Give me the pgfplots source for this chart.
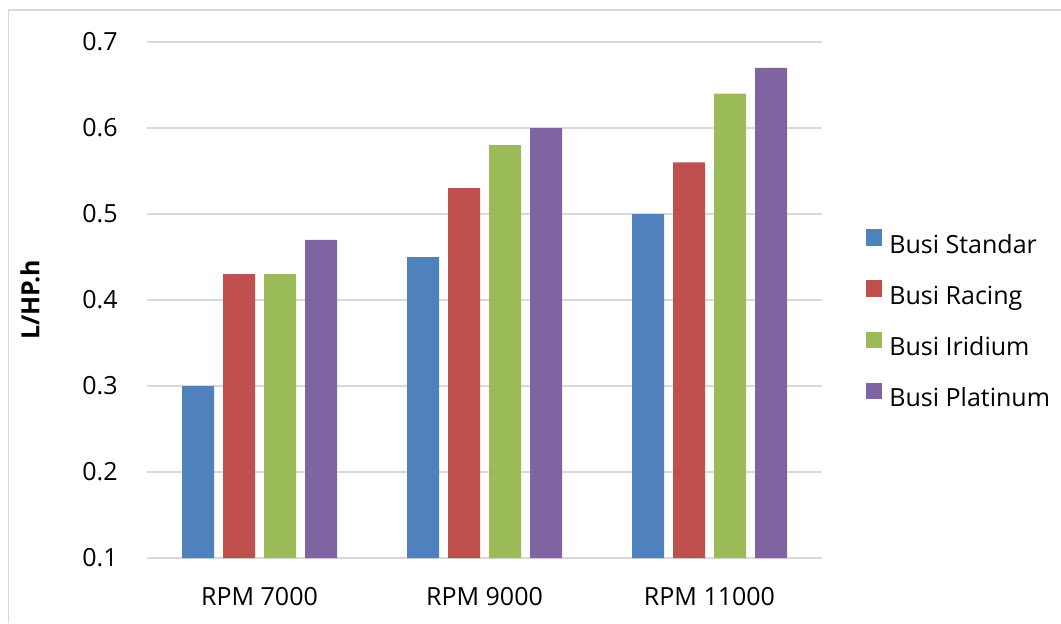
\documentclass[border=0pt]{standalone}
\usepackage{pgfplots}
\pgfplotsset{compat=1.18}
\usepackage{fontspec}
\setmainfont{Open Sans}

\definecolor{sBlue}{HTML}{4F81BD}
\definecolor{sRed}{HTML}{C0504D}
\definecolor{sGreen}{HTML}{9BBB59}
\definecolor{sPurple}{HTML}{8064A2}
\definecolor{gridgray}{HTML}{D9D9D9}

\begin{document}
\fontsize{12.5pt}{15pt}\selectfont
\begin{tikzpicture}
  % page area and chart frame
  \path[use as bounding box] (0pt,0pt) rectangle (530.5pt,311.5pt);
  \draw[gridgray, line width=0.8pt] (4.25pt,0pt) -- (4.25pt,306.5pt) -- (530.5pt,306.5pt);

  \begin{axis}[
    at={(73.5pt,32.5pt)}, anchor=south west,
    scale only axis, width=337.5pt, height=258pt,
    xmin=-0.5, xmax=2.5, ymin=0.1, ymax=0.7,
    ybar=4.5pt, bar width=16pt,
    xtick={0,1,2},
    xticklabels={RPM 7000, RPM 9000, RPM 11000},
    ytick={0.1,0.2,0.3,0.4,0.5,0.6,0.7},
    /pgf/number format/assume math mode=true,
    yticklabel style={/pgf/number format/fixed, /pgf/number format/fixed zerofill,
      /pgf/number format/precision=1,
      anchor=east, inner sep=0pt, xshift=-14.5pt},
    xticklabel style={anchor=north, inner sep=0pt, yshift=-14.3pt},
    major tick length=0pt,
    axis line style={draw=none},
    ymajorgrids,
    grid style={draw=gridgray, line width=0.65pt},
    legend image code/.code={\fill[#1] (0pt,-0.5pt) rectangle (8pt,7.7pt);},
    legend style={at={(1.0652,0.464)}, anchor=west, draw=none, fill=none,
      inner sep=0pt, row sep=13.2pt,
      nodes={inner sep=0pt, text height=9pt, text depth=0.5pt},
      /tikz/every odd column/.append style={column sep=3.5pt}},
    legend cell align=left,
  ]
    \addplot[fill=sBlue, draw=none] coordinates {(0,0.30) (1,0.45) (2,0.50)};
    \addplot[fill=sRed, draw=none] coordinates {(0,0.43) (1,0.53) (2,0.56)};
    \addplot[fill=sGreen, draw=none] coordinates {(0,0.43) (1,0.58) (2,0.64)};
    \addplot[fill=sPurple, draw=none] coordinates {(0,0.47) (1,0.60) (2,0.67)};
    \legend{Busi Standar, Busi Racing, Busi Iridium, Busi Platinum}
  \end{axis}

  % vertical axis title
  \node[rotate=90, font=\bfseries] at (15pt,161.5pt) {L/HP.h};
\end{tikzpicture}
\end{document}
